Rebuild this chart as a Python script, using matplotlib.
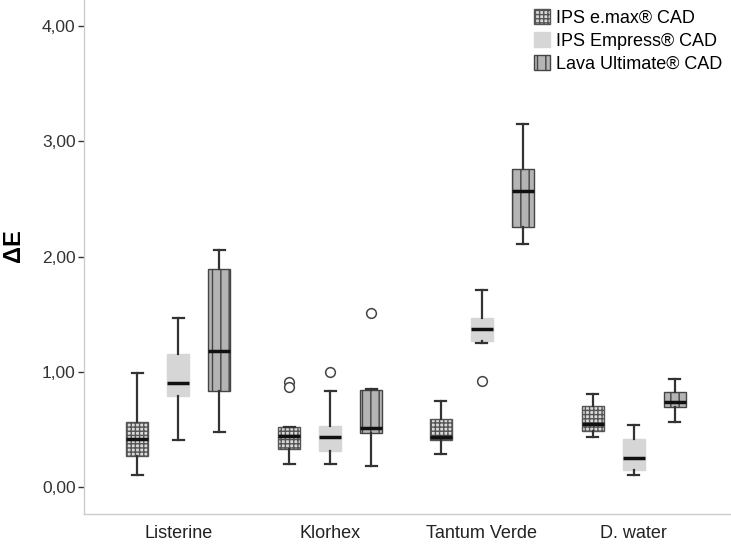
import numpy as np
import matplotlib.pyplot as plt
from matplotlib.patches import Patch

plt.rcParams['font.family'] = ['Liberation Sans', 'DejaVu Sans']

groups = ['Listerine', 'Klorhex', 'Tantum Verde', 'D. water']
materials = ['IPS e.max® CAD', 'IPS Empress® CAD', 'Lava Ultimate® CAD']

# per material: one value per group (whisker low, q1, median, q3, whisker high)
whislo = [[0.10, 0.20, 0.29, 0.43],
          [0.41, 0.20, 1.25, 0.10],
          [0.48, 0.18, 2.11, 0.56]]
q1 = [[0.27, 0.33, 0.41, 0.49],
      [0.79, 0.31, 1.27, 0.15],
      [0.83, 0.47, 2.26, 0.69]]
med = [[0.42, 0.44, 0.43, 0.55],
       [0.90, 0.43, 1.37, 0.25],
       [1.18, 0.51, 2.57, 0.74]]
q3 = [[0.56, 0.52, 0.59, 0.70],
      [1.15, 0.53, 1.47, 0.42],
      [1.89, 0.84, 2.76, 0.82]]
whishi = [[0.99, 0.52, 0.75, 0.81],
          [1.47, 0.83, 1.71, 0.54],
          [2.06, 0.85, 3.15, 0.94]]
outliers = [[[], [0.91, 0.87], [], []],
            [[], [1.00], [0.92], []],
            [[], [1.51], [], []]]

faces = ['#dadada', '#d6d6d6', '#b4b4b4']
edges = ['#555555', '#d6d6d6', '#444444']
hatches = ['++++', '', '||']

fig = plt.figure(figsize=(7.31, 5.45), dpi=100)
ax = fig.add_axes([0.115, 0.057, 0.885, 0.943])

x = np.arange(len(groups))
off = 0.27
wid = 0.145

for m in range(3):
    stats = []
    for g in range(len(groups)):
        stats.append(dict(whislo=whislo[m][g], q1=q1[m][g], med=med[m][g],
                          q3=q3[m][g], whishi=whishi[m][g], fliers=outliers[m][g]))
    pos = x + (m - 1) * off
    bp = ax.bxp(stats, positions=pos, widths=wid, patch_artist=True, showfliers=True,
                manage_ticks=False,
                medianprops=dict(color='#111111', linewidth=2.5),
                whiskerprops=dict(color='#333333', linewidth=1.6),
                capprops=dict(color='#333333', linewidth=1.6),
                capwidths=wid * 0.5,
                flierprops=dict(marker='o', markerfacecolor='white', markeredgecolor='#444444',
                                markersize=7, markeredgewidth=1.1))
    for b in bp['boxes']:
        b.set_facecolor(faces[m])
        b.set_edgecolor(edges[m])
        b.set_hatch(hatches[m])
        b.set_linewidth(1.0)

ax.set_xlim(-0.62, 3.64)
ax.set_ylim(-0.234, 4.226)
ax.set_yticks([0, 1, 2, 3, 4])
ax.set_yticklabels(['0,00', '1,00', '2,00', '3,00', '4,00'])
ax.set_xticks(x)
ax.set_xticklabels(groups)
ax.tick_params(axis='x', length=0, labelsize=13, colors='#222222', pad=8)
ax.tick_params(axis='y', length=4, width=1, labelsize=12.5, colors='#333333', pad=2)
ax.set_ylabel('ΔE', fontsize=17, fontweight='bold')
ax.yaxis.set_label_coords(-0.092, 0.523)

for s in ['top', 'right']:
    ax.spines[s].set_visible(False)
for s in ['left', 'bottom']:
    ax.spines[s].set_color('#cccccc')
    ax.spines[s].set_linewidth(1.0)

handles = [Patch(facecolor=faces[i], edgecolor=edges[i], hatch=hatches[i]) for i in range(3)]
ax.legend(handles, materials, loc='upper right', bbox_to_anchor=(1.0, 1.0), frameon=False,
          fontsize=13, handlelength=0.9, handleheight=0.9, handletextpad=0.3,
          labelspacing=0.3, borderaxespad=0.1)

fig.savefig('out.png', dpi=100)
